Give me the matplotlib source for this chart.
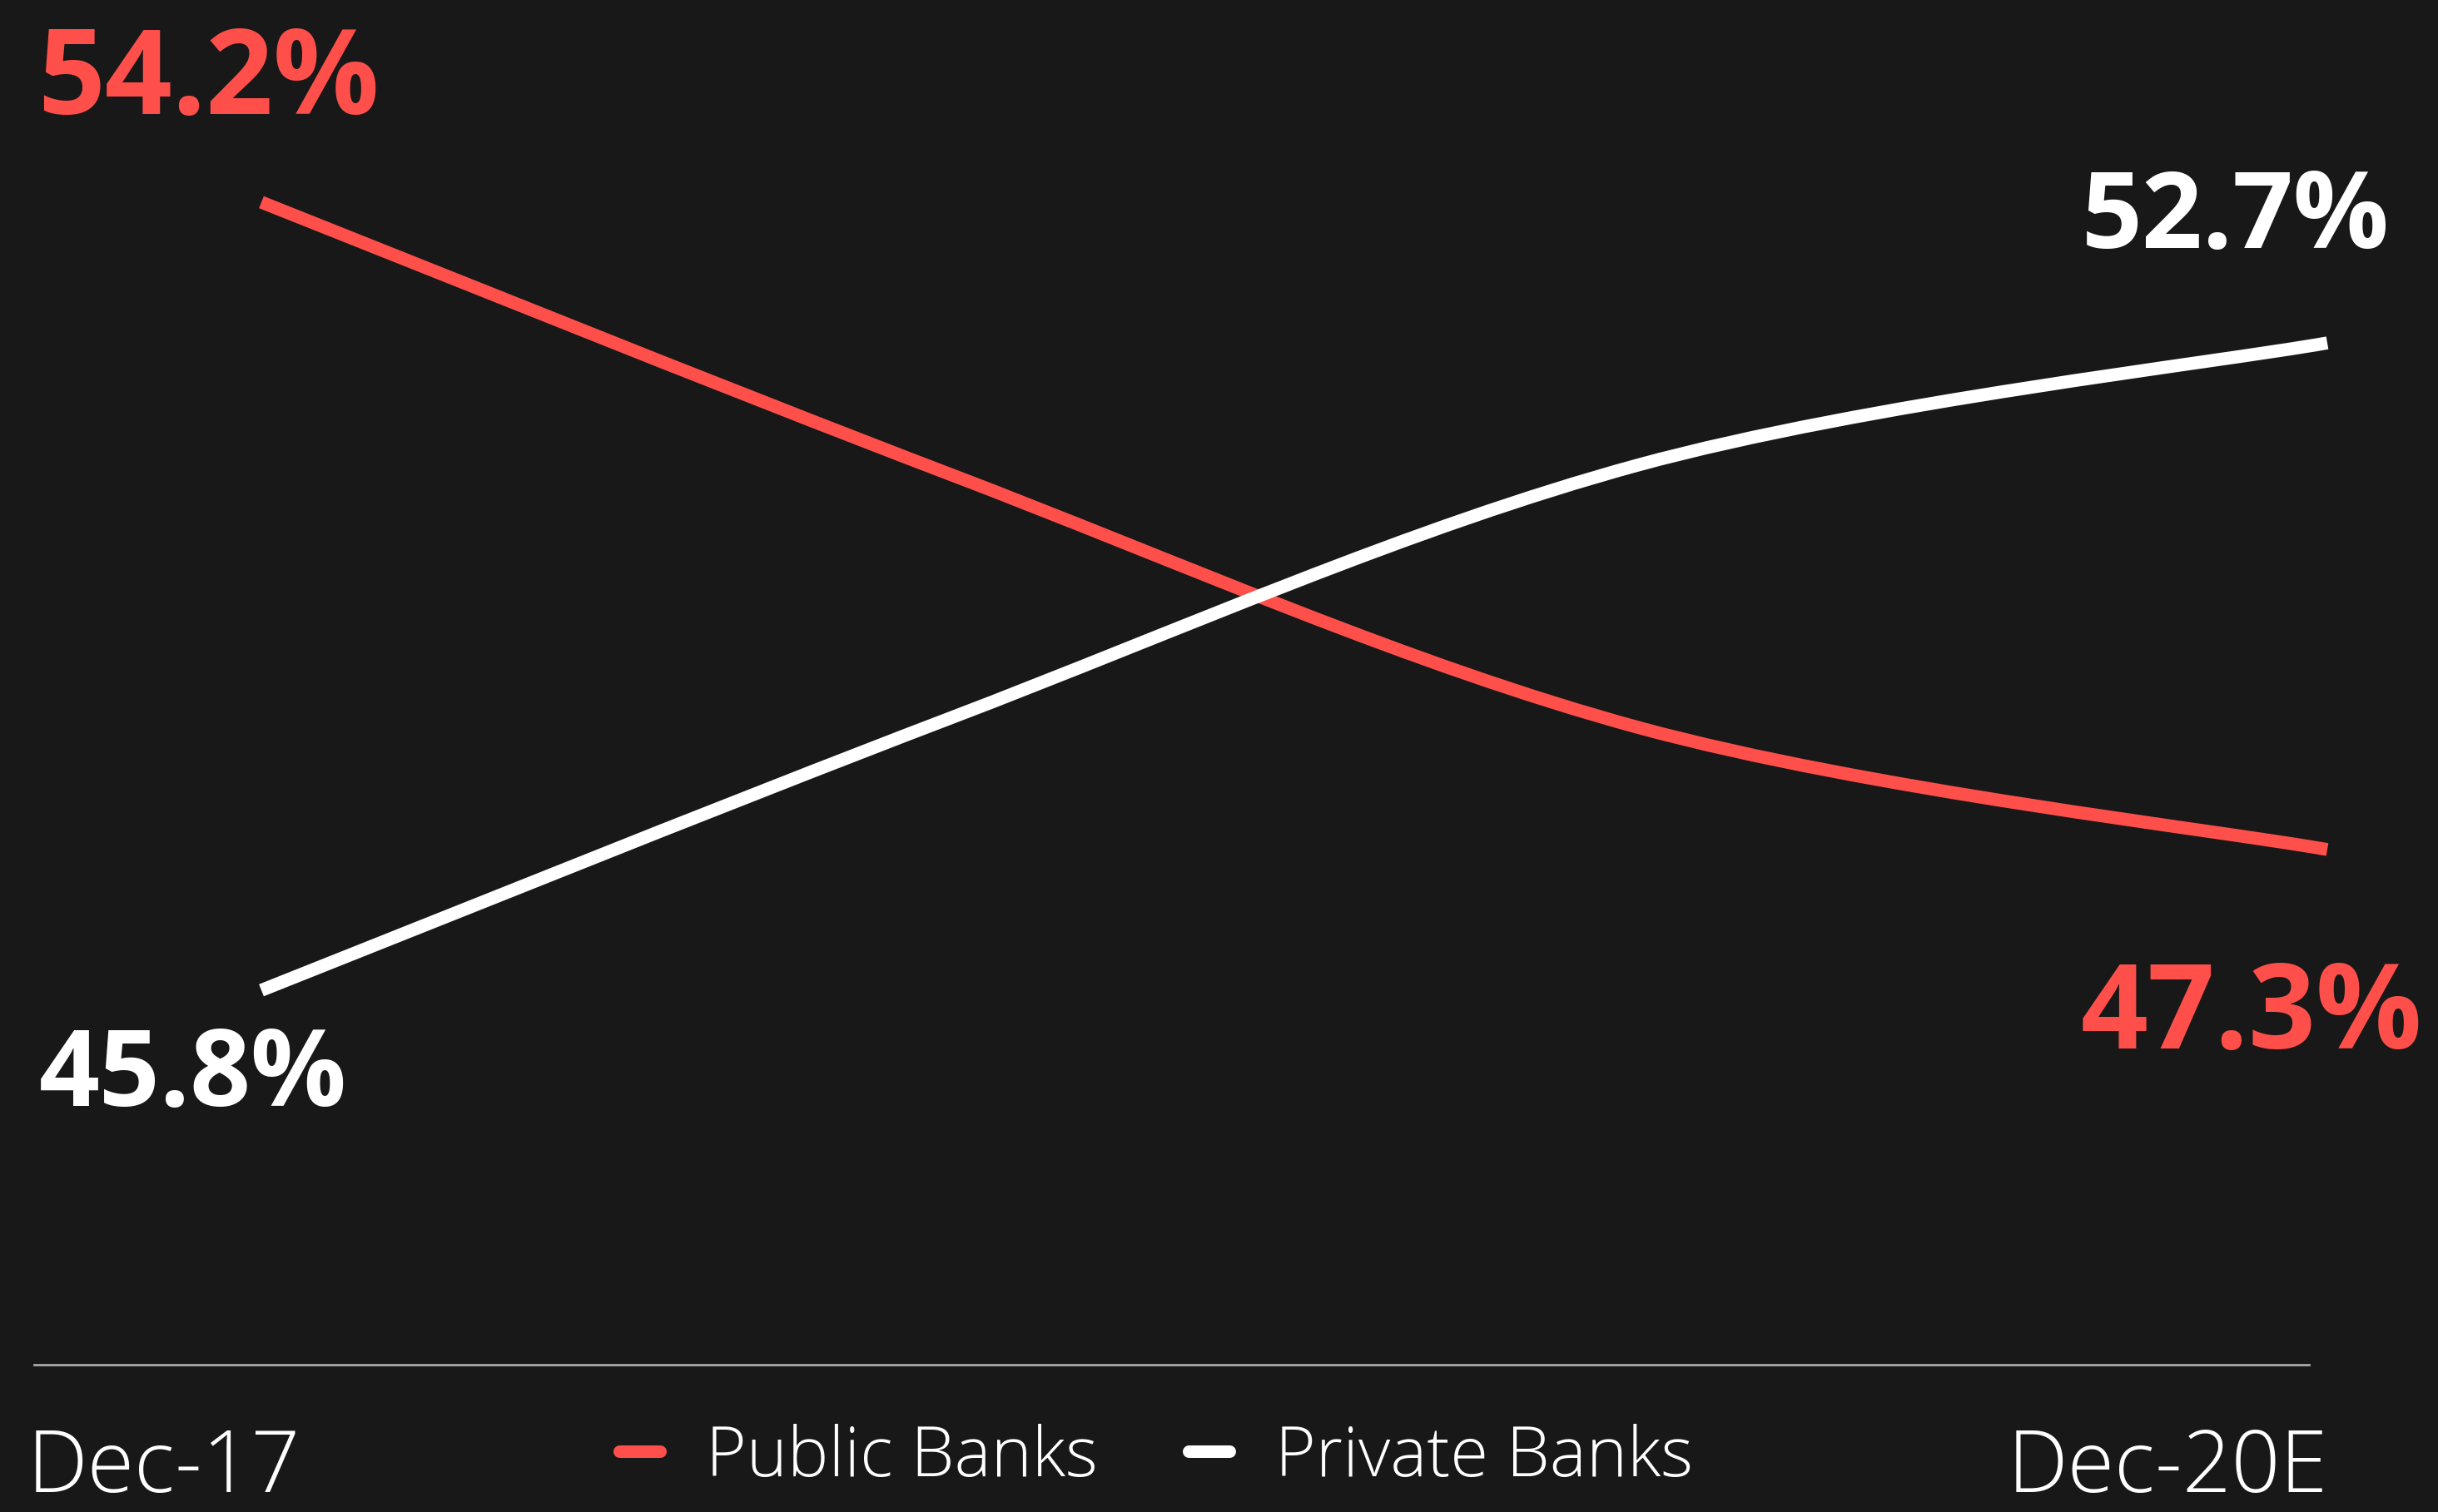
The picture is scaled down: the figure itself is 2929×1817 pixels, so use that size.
import numpy as np
import matplotlib.pyplot as plt
from matplotlib.path import Path
from matplotlib.patches import PathPatch
from matplotlib.lines import Line2D

# share of loans, public vs private banks
periods = ["Dec-17", "Dec-18", "Dec-19", "Dec-20E"]
public = [54.2, 51.3, 48.6, 47.3]
private = [45.8, 48.7, 51.4, 52.7]

RED = "#ff4f4b"
WHITE = "#ffffff"
BG = "#181818"

plt.rcParams['font.family'] = ['Open Sans', 'DejaVu Sans']


def smooth_path(xs, ys):
    # excel-like smoothed line: cubic bezier through the points
    pts = np.column_stack([xs, ys]).astype(float)
    n = len(pts)
    verts = [pts[0]]
    codes = [Path.MOVETO]
    for i in range(n - 1):
        p0 = pts[max(i - 1, 0)]
        p1 = pts[i]
        p2 = pts[i + 1]
        p3 = pts[min(i + 2, n - 1)]
        verts += [p1 + (p2 - p0) / 6, p2 - (p3 - p1) / 6, p2]
        codes += [Path.CURVE4] * 3
    return Path(verts, codes)


fig = plt.figure(figsize=(14.645, 9.085), dpi=200, facecolor=BG)
W, H = 2929, 1817
ax = fig.add_axes([41 / W, 1 - 1640 / H, (2774 - 41) / W, 1640 / H])
ax.set_facecolor(BG)

x = np.arange(len(periods))
ax.add_patch(PathPatch(smooth_path(x, public), facecolor="none", edgecolor=RED,
                       lw=5.6, capstyle="butt", clip_on=False, zorder=3))
ax.add_patch(PathPatch(smooth_path(x, private), facecolor="none", edgecolor=WHITE,
                       lw=5.6, capstyle="butt", clip_on=False, zorder=4))

ax.set_xlim(-0.33, 2.9734)
ax.set_ylim(41.809, 56.355)

for s in ["top", "left", "right"]:
    ax.spines[s].set_visible(False)
ax.spines["bottom"].set_color("#a8a8a8")
ax.spines["bottom"].set_linewidth(1.0)
ax.set_xticks([])
ax.set_yticks([])

# end value labels
big = dict(fontweight="bold", textcoords="offset points", va="baseline",
           annotation_clip=False)
ax.annotate(f"{public[0]:.1f}%", xy=(0, public[0]), xytext=(-97, 38),
            ha="left", color=RED, fontsize=51, **big)
ax.annotate(f"{public[-1]:.1f}%", xy=(x[-1], public[-1]), xytext=(41, -86),
            ha="right", color=RED, fontsize=51, **big)
ax.annotate(f"{private[0]:.1f}%", xy=(0, private[0]), xytext=(-96, -50),
            ha="left", color=WHITE, fontsize=46, **big)
ax.annotate(f"{private[-1]:.1f}%", xy=(x[-1], private[-1]), xytext=(27, 41),
            ha="right", color=WHITE, fontsize=46, **big)

# first / last period labels at the ends of the axis
ax.annotate(periods[0], xy=(0, 0), xycoords="axes fraction", xytext=(-3, -55),
            textcoords="offset points", ha="left", va="baseline",
            color=WHITE, fontsize=37, fontweight="light")
ax.annotate(periods[-1], xy=(1, 0), xycoords="axes fraction", xytext=(8, -55),
            textcoords="offset points", ha="right", va="baseline",
            color=WHITE, fontsize=37, fontweight="light")

handles = [Line2D([], [], color=RED, lw=5.4, solid_capstyle="round"),
           Line2D([], [], color=WHITE, lw=5.4, solid_capstyle="round")]
fig.legend(handles, ["Public Banks", "Private Banks"], loc="center",
           bbox_to_anchor=(1389 / W, 1 - 1752 / H), ncol=2, frameon=False,
           labelcolor=WHITE, handlelength=0.59,
           handletextpad=0.66, columnspacing=1.3,
           prop={"weight": "light", "size": 30})

fig.savefig("out.png", dpi=200, facecolor=BG)
